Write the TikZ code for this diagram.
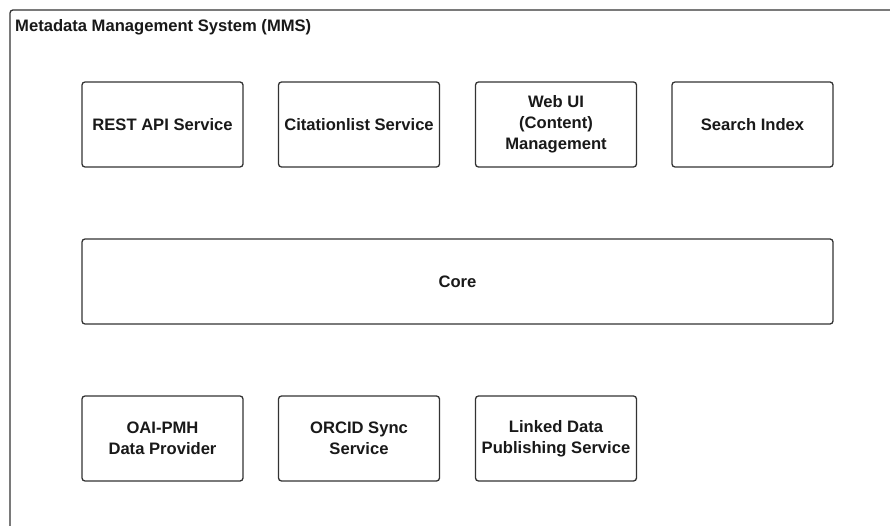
\documentclass[tikz,border=0pt]{standalone}
\usepackage{fontspec}
\setmainfont{Liberation Sans}
\begin{document}
\begin{tikzpicture}[x=1pt,y=-1pt,
  comp/.style={draw=black!80, line width=1.3pt, rounded corners=3pt, fill=white,
    minimum width=161pt, minimum height=85pt, align=center, inner sep=0pt,
    font=\fontsize{16.6}{20.8}\selectfont\bfseries, text=black!90},
  frame/.style={draw=black!80, line width=1.3pt, rounded corners=3pt}]
\useasboundingbox (0,0) rectangle (890,526);
\clip (0,0) rectangle (890,526);
\fill[white] (0,0) rectangle (890,526);
\draw[frame] (10,10) rectangle (905,545);
\node[anchor=base west, inner sep=0pt, font=\fontsize{16.6}{20}\selectfont\bfseries, text=black!90] (title) at (15,32) {Metadata Management System (MMS)};
\node[comp] (rest) at (162.5,124.5) {REST API Service};
\node[comp] (cite) at (359,124.5) {Citationlist Service};
\node[comp] (web) at (556,124.5) {Web UI\\(Content)\\Management};
\node[comp] (search) at (752.5,124.5) {Search Index};
\node[comp, minimum width=751pt] (core) at (457.5,281.5) {Core};
\node[comp] (oai) at (162.5,438.5) {OAI-PMH\\Data Provider};
\node[comp] (orcid) at (359,438.5) {ORCID Sync\\Service};
\node[comp] (lod) at (556,438.5) {Linked Data\\Publishing Service};
\end{tikzpicture}
\end{document}
